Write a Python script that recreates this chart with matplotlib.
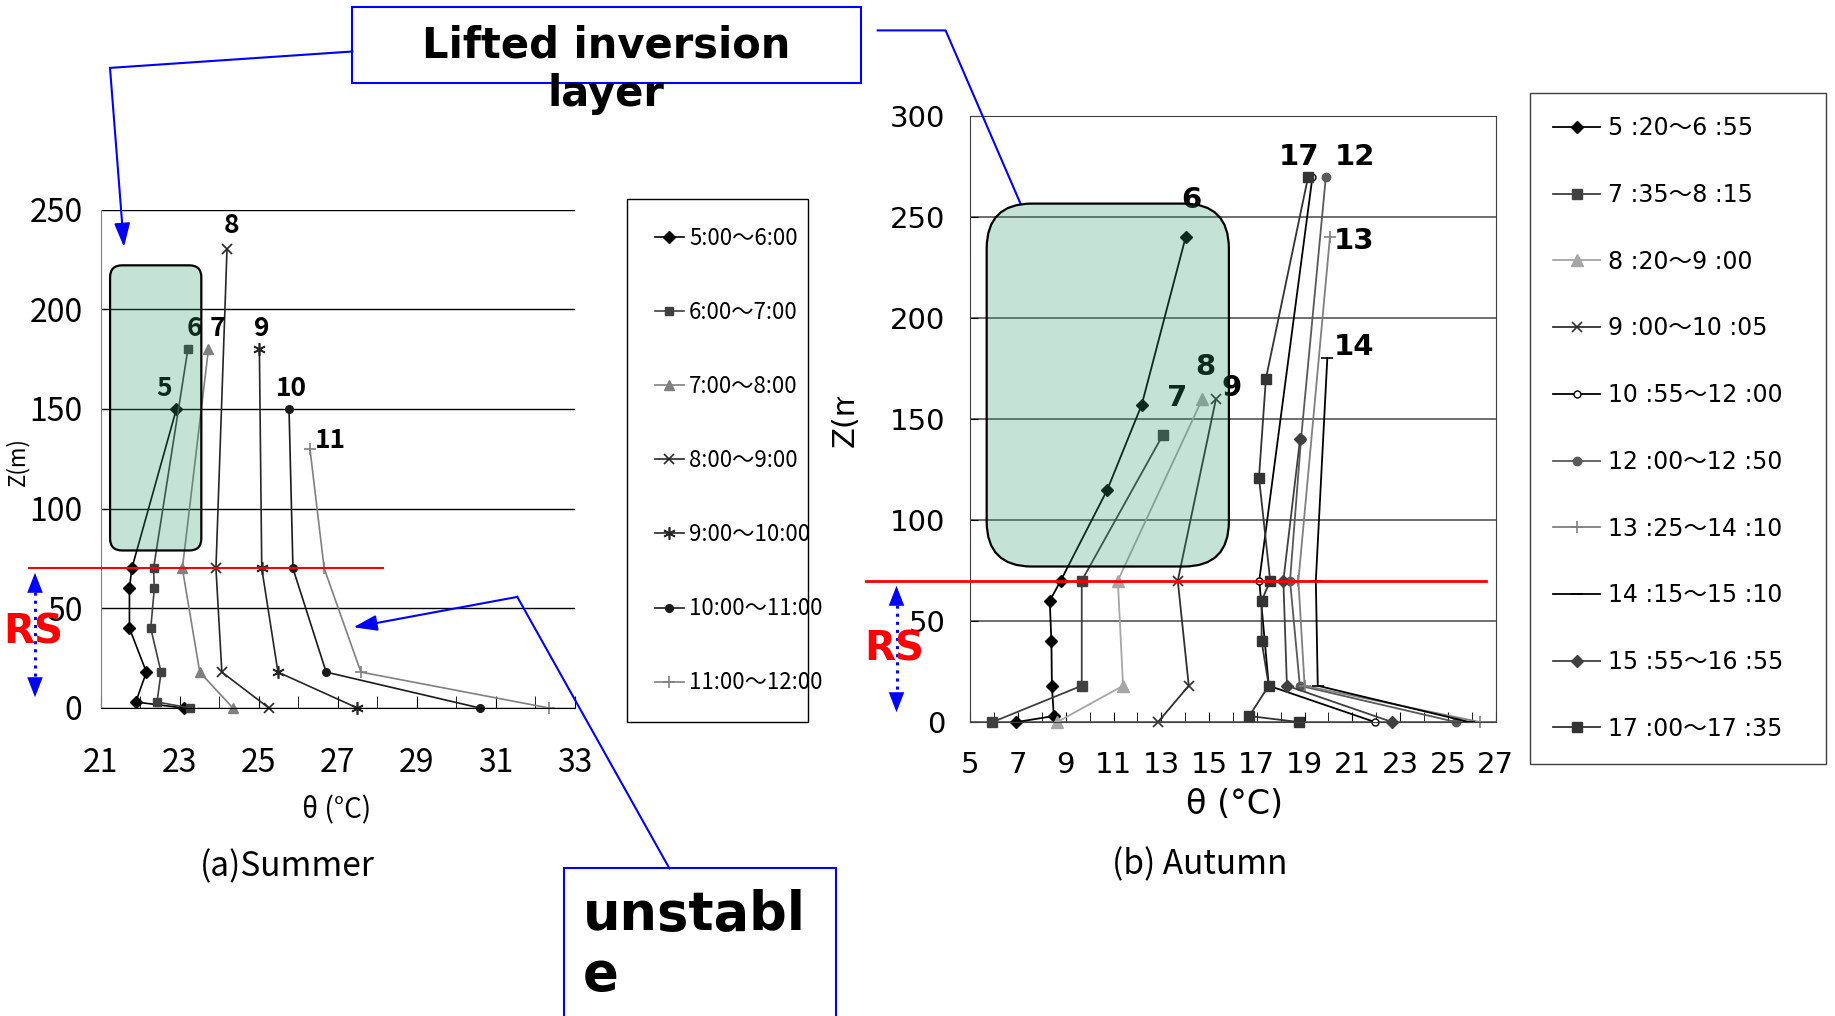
import matplotlib
matplotlib.use("Agg")
import matplotlib.pyplot as plt
from matplotlib.patches import FancyBboxPatch, Rectangle, FancyArrowPatch
from matplotlib.lines import Line2D
from matplotlib.font_manager import FontProperties
from matplotlib.transforms import Bbox

narrow = ['Noto Sans CJK JP', 'DejaVu Sans']
wide = ['DejaVu Sans', 'Noto Sans CJK JP']
plt.rcParams['font.family'] = wide


def nfont(size, weight='normal'):
    return FontProperties(family=narrow, size=size, weight=weight)


# ---- (a) Summer: potential temperature profiles ----
summer_labels = ['5:00～6:00', '6:00～7:00', '7:00～8:00', '8:00～9:00',
                 '9:00～10:00', '10:00～11:00', '11:00～12:00']
summer_tags = ['5', '6', '7', '8', '9', '10', '11']
summer_z = [[0, 3, 18, 40, 60, 70, 150],
            [0, 3, 18, 40, 60, 70, 180],
            [0, 18, 70, 180],
            [0, 18, 70, 230],
            [0, 18, 70, 180],
            [0, 18, 70, 150],
            [0, 18, 70, 130]]
summer_t = [[23.11, 21.89, 22.16, 21.73, 21.73, 21.79, 22.92],
            [23.27, 22.43, 22.53, 22.27, 22.36, 22.34, 23.21],
            [24.35, 23.51, 23.07, 23.73],
            [25.26, 24.07, 23.92, 24.20],
            [27.5, 25.49, 25.08, 25.02],
            [30.6, 26.71, 25.87, 25.77],
            [32.35, 27.59, 26.66, 26.30]]

# ---- (b) Autumn ----
autumn_labels = ['5 :20～6 :55', '7 :35～8 :15', '8 :20～9 :00', '9 :00～10 :05',
                 '10 :55～12 :00', '12 :00～12 :50', '13 :25～14 :10',
                 '14 :15～15 :10', '15 :55～16 :55', '17 :00～17 :35']
autumn_tags = ['6', '7', '8', '9', None, '12', '13', '14', None, '17']
autumn_z = [[0, 3, 18, 40, 60, 70, 115, 157, 240],
            [0, 18, 70, 142],
            [0, 18, 70, 160],
            [0, 18, 70, 160],
            [0, 18, 70, 270],
            [0, 18, 70, 140, 270],
            [0, 18, 70, 240],
            [0, 18, 70, 180],
            [0, 18, 70, 140],
            [0, 3, 18, 40, 60, 70, 121, 170, 270]]
autumn_t = [[6.93, 8.5, 8.42, 8.4, 8.33, 8.79, 10.74, 12.18, 14.02],
            [5.93, 9.67, 9.67, 13.06],
            [8.64, 11.4, 11.18, 14.72],
            [12.86, 14.15, 13.69, 15.29],
            [21.95, 17.5, 17.1, 19.33],
            [25.35, 18.8, 18.39, 18.85, 19.89],
            [26.34, 19.0, 18.74, 20.06],
            [25.9, 19.55, 19.47, 19.95],
            [22.67, 18.26, 18.11, 18.81],
            [18.77, 16.68, 17.5, 17.2, 17.2, 17.56, 17.09, 17.38, 19.15]]

# styles (marker, colour, size, face)
summer_style = [('D', 'black', 6, None), ('s', '#404040', 6, None), ('^', '#808080', 7.5, None),
                ('x', '#262626', 7, None), ((6, 2, 0), '#262626', 9, None),
                ('o', '#1a1a1a', 5.5, None), ('+', '#808080', 8, None)]
summer_off = [(-9, 15), (5, 15), (6.5, 15), (3.5, 17), (2, 15), (2, 15), (14.5, 6)]
autumn_style = [('D', 'black', 6, None), ('s', '#404040', 6.5, None), ('^', '#a6a6a6', 8, None),
                ('x', '#303030', 7, None), ('o', 'black', 5, 'white'), ('o', '#595959', 6, None),
                ('+', '#808080', 8, None), ('_', 'black', 8, None), ('D', '#404040', 6, None),
                ('s', '#333333', 6.5, None)]
autumn_off = [(4, 27), (10.5, 27), (2, 23), (11.5, 8), None, (21, 14), (17.5, -3), (19.5, 8.5),
              None, (-6.5, 14)]

W, H = 1835, 1016
fig = plt.figure(figsize=(W / 100, H / 100), dpi=100)


def fx(x):
    return x / W


def fy(y):
    return 1 - y / H


def draw(ax, zs, ts, style, lw):
    lines = []
    for z, t, (m, c, ms, face) in zip(zs, ts, style):
        ln, = ax.plot(t, z, color=c, marker=m, markersize=ms, lw=lw, zorder=2,
                      markerfacecolor=face if face else c, markeredgecolor=c,
                      markeredgewidth=1.2 if m in ('x', '+', '_', (6, 2, 0)) else 1, clip_on=False)
        lines.append(ln)
    return lines


# ---------- left panel ----------
ax1 = fig.add_axes([fx(100.6), fy(708), 474 / W, 498.5 / H])
ax1.set_xlim(21, 33)
ax1.set_ylim(0, 250)
lines1 = draw(ax1, summer_z, summer_t, summer_style, 1.2)
ax1.set_xticks(range(21, 34, 2))
ax1.set_xticks(range(21, 34), minor=True)
ax1.set_yticks(range(0, 251, 50))
ax1.set_axisbelow(True)
ax1.yaxis.grid(True, color='black', lw=1)
ax1.spines['top'].set_visible(False)
ax1.spines['right'].set_visible(False)
ax1.spines['left'].set_color('#808080')
ax1.tick_params(axis='x', which='both', direction='in', length=9, pad=28)
ax1.tick_params(axis='y', length=0, pad=13)
for lbl in ax1.get_xticklabels() + ax1.get_yticklabels():
    lbl.set_fontproperties(nfont(23))
for ln, tag, off in zip(lines1, summer_tags, summer_off):
    x, y = ln.get_xdata()[-1], ln.get_ydata()[-1]
    ax1.annotate(tag, (x, y), xytext=off, textcoords='offset points', ha='center', va='center',
                 fontproperties=nfont(19, 'bold'), zorder=2.5)

# ---------- right panel ----------
ax2 = fig.add_axes([fx(970.2), fy(722.1), 525.5 / W, 606.2 / H])
ax2.set_xlim(5, 27)
ax2.set_ylim(0, 300)
lines2 = draw(ax2, autumn_z, autumn_t, autumn_style, 1.3)
ax2.set_xticks(range(5, 28, 2))
ax2.set_xticks(range(5, 28), minor=True)
ax2.set_yticks(range(0, 301, 50))
ax2.set_axisbelow(True)
ax2.yaxis.grid(True, color='#555555', lw=1.2)
for sp in ax2.spines.values():
    sp.set_color('#404040')
ax2.tick_params(axis='x', which='both', direction='in', length=7, pad=21, labelsize=21)
ax2.tick_params(axis='y', direction='in', length=6, pad=18, labelsize=21)
for ln, tag, off in zip(lines2, autumn_tags, autumn_off):
    if tag is None:
        continue
    x, y = ln.get_xdata()[-1], ln.get_ydata()[-1]
    ax2.annotate(tag, (x, y), xytext=off, textcoords='offset points', ha='center', va='center',
                 fontsize=21, fontweight='bold', zorder=2.5, annotation_clip=False)

# translucent green "lifted inversion" boxes
green = (46 / 255, 154 / 255, 107 / 255, 0.28)
for ax, (x0, x1, y0, y1), rad in [(ax1, (21.24, 23.55, 79, 222), 12),
                                  (ax2, (5.69, 15.83, 77, 256.6), 45)]:
    (px0, py0), (px1, py1) = ax.transData.transform([(x0, y0), (x1, y1)])
    box = FancyBboxPatch((px0, py0), px1 - px0, py1 - py0,
                         boxstyle='round,pad=0,rounding_size=%d' % rad,
                         transform=None, facecolor=green, edgecolor='black', lw=1.6, zorder=3)
    fig.add_artist(box)

# red 70 m line
ax1.plot([19.19, 28.15], [70, 70], color='red', lw=1.5, clip_on=False, zorder=4)
ax2.plot([0.64, 26.6], [70, 70], color='red', lw=2, clip_on=False, zorder=4)

# legends
leg1 = fig.legend(lines1, summer_labels, loc='upper left',
                  bbox_to_anchor=(fx(627), fy(199), 180.5 / W, 0.0), mode='expand',
                  prop=nfont(16), frameon=True, fancybox=False,
                  edgecolor='black', framealpha=1, handlelength=1.3, handletextpad=0.25,
                  labelspacing=2.3, borderpad=1.25, borderaxespad=0)
leg1.get_frame().set_linewidth(1)
leg2 = fig.legend(lines2, autumn_labels, loc='upper left',
                  bbox_to_anchor=(fx(1529.6), fy(92.5), 296 / W, 0.0), mode='expand',
                  prop=FontProperties(family=wide, size=17), frameon=True, fancybox=False,
                  edgecolor='#404040', framealpha=1, handlelength=2.0, handletextpad=0.3,
                  labelspacing=1.81, borderpad=1.0, borderaxespad=0)
leg2.get_frame().set_linewidth(1)

# axis titles and captions
fig.text(fx(17.5), fy(462), 'Z(m)', rotation=90, ha='center', va='center',
         fontproperties=nfont(16))
fig.text(fx(337), fy(810), 'θ (°C)', ha='center', va='center', fontproperties=nfont(20))
fig.text(fx(287), fy(867), '(a)Summer', ha='center', va='center', fontproperties=nfont(24))
fig.text(fx(1200), fy(865), '(b) Autumn', ha='center', va='center', fontproperties=nfont(24))
fig.text(fx(1235), fy(805), 'θ (°C)', ha='center', va='center', fontsize=24)
zt = fig.text(fx(845), fy(447), 'Z(m)', rotation=90, ha='center', va='bottom', fontsize=22)
zt.set_clip_box(Bbox([[800, 0], [900, H - 397]]))
zt.set_clip_on(True)

# RS markers
for x, y0, y1, ty in [(35, 570, 700, 633), (896.5, 583, 715, 649.5)]:
    fig.add_artist(Line2D([fx(x), fx(x)], [fy(y0 + 14), fy(y1 - 14)], color='blue',
                          lw=2.2, linestyle=':', transform=fig.transFigure))
    for a, b in [(y0 + 16, y0), (y1 - 16, y1)]:
        fig.add_artist(FancyArrowPatch((fx(x), fy(a)), (fx(x), fy(b)), transform=fig.transFigure,
                                       arrowstyle='-|>,head_length=0.9,head_width=0.35',
                                       mutation_scale=16, color='blue', lw=0))
    fig.text(fx(x - 2), fy(ty), 'RS', color='red', fontsize=29, fontweight='bold',
             ha='center', va='center')

# callout boxes
fig.add_artist(Rectangle((fx(352), fy(83)), fx(861) - fx(352), fy(7) - fy(83),
                         transform=fig.transFigure, facecolor='white', edgecolor='blue', lw=1.5))
fig.text(fx(606), fy(70), 'Lifted inversion\nlayer', ha='center', va='center',
         fontsize=30, fontweight='bold', linespacing=1.2)
fig.add_artist(Rectangle((fx(564), fy(1030)), fx(835.6) - fx(564), fy(868.4) - fy(1030),
                         transform=fig.transFigure, facecolor='white', edgecolor='blue', lw=1.5))
fig.text(fx(583), fy(945), 'unstabl\ne', ha='left', va='center',
         fontsize=38, fontweight='bold', linespacing=1.2)


def callout(pts, head):
    if head:
        fig.add_artist(Line2D([fx(p[0]) for p in pts[:-1]], [fy(p[1]) for p in pts[:-1]],
                              color='blue', lw=1.5, transform=fig.transFigure))
        fig.add_artist(FancyArrowPatch((fx(pts[-2][0]), fy(pts[-2][1])), (fx(pts[-1][0]), fy(pts[-1][1])),
                                       transform=fig.transFigure, color='blue', lw=1.5,
                                       arrowstyle='-|>,head_length=0.9,head_width=0.3',
                                       mutation_scale=16, shrinkA=0, shrinkB=0))
    else:
        fig.add_artist(Line2D([fx(p[0]) for p in pts], [fy(p[1]) for p in pts], color='blue',
                              lw=1.5, transform=fig.transFigure))


callout([(352.3, 51.5), (110, 67.9), (124, 247)], True)
callout([(877.7, 30.4), (945.6, 30.4), (1020.5, 203.6)], False)
callout([(669.4, 868.4), (517.3, 596.9), (353.4, 627.3)], True)

fig.savefig('out.png', dpi=100)
